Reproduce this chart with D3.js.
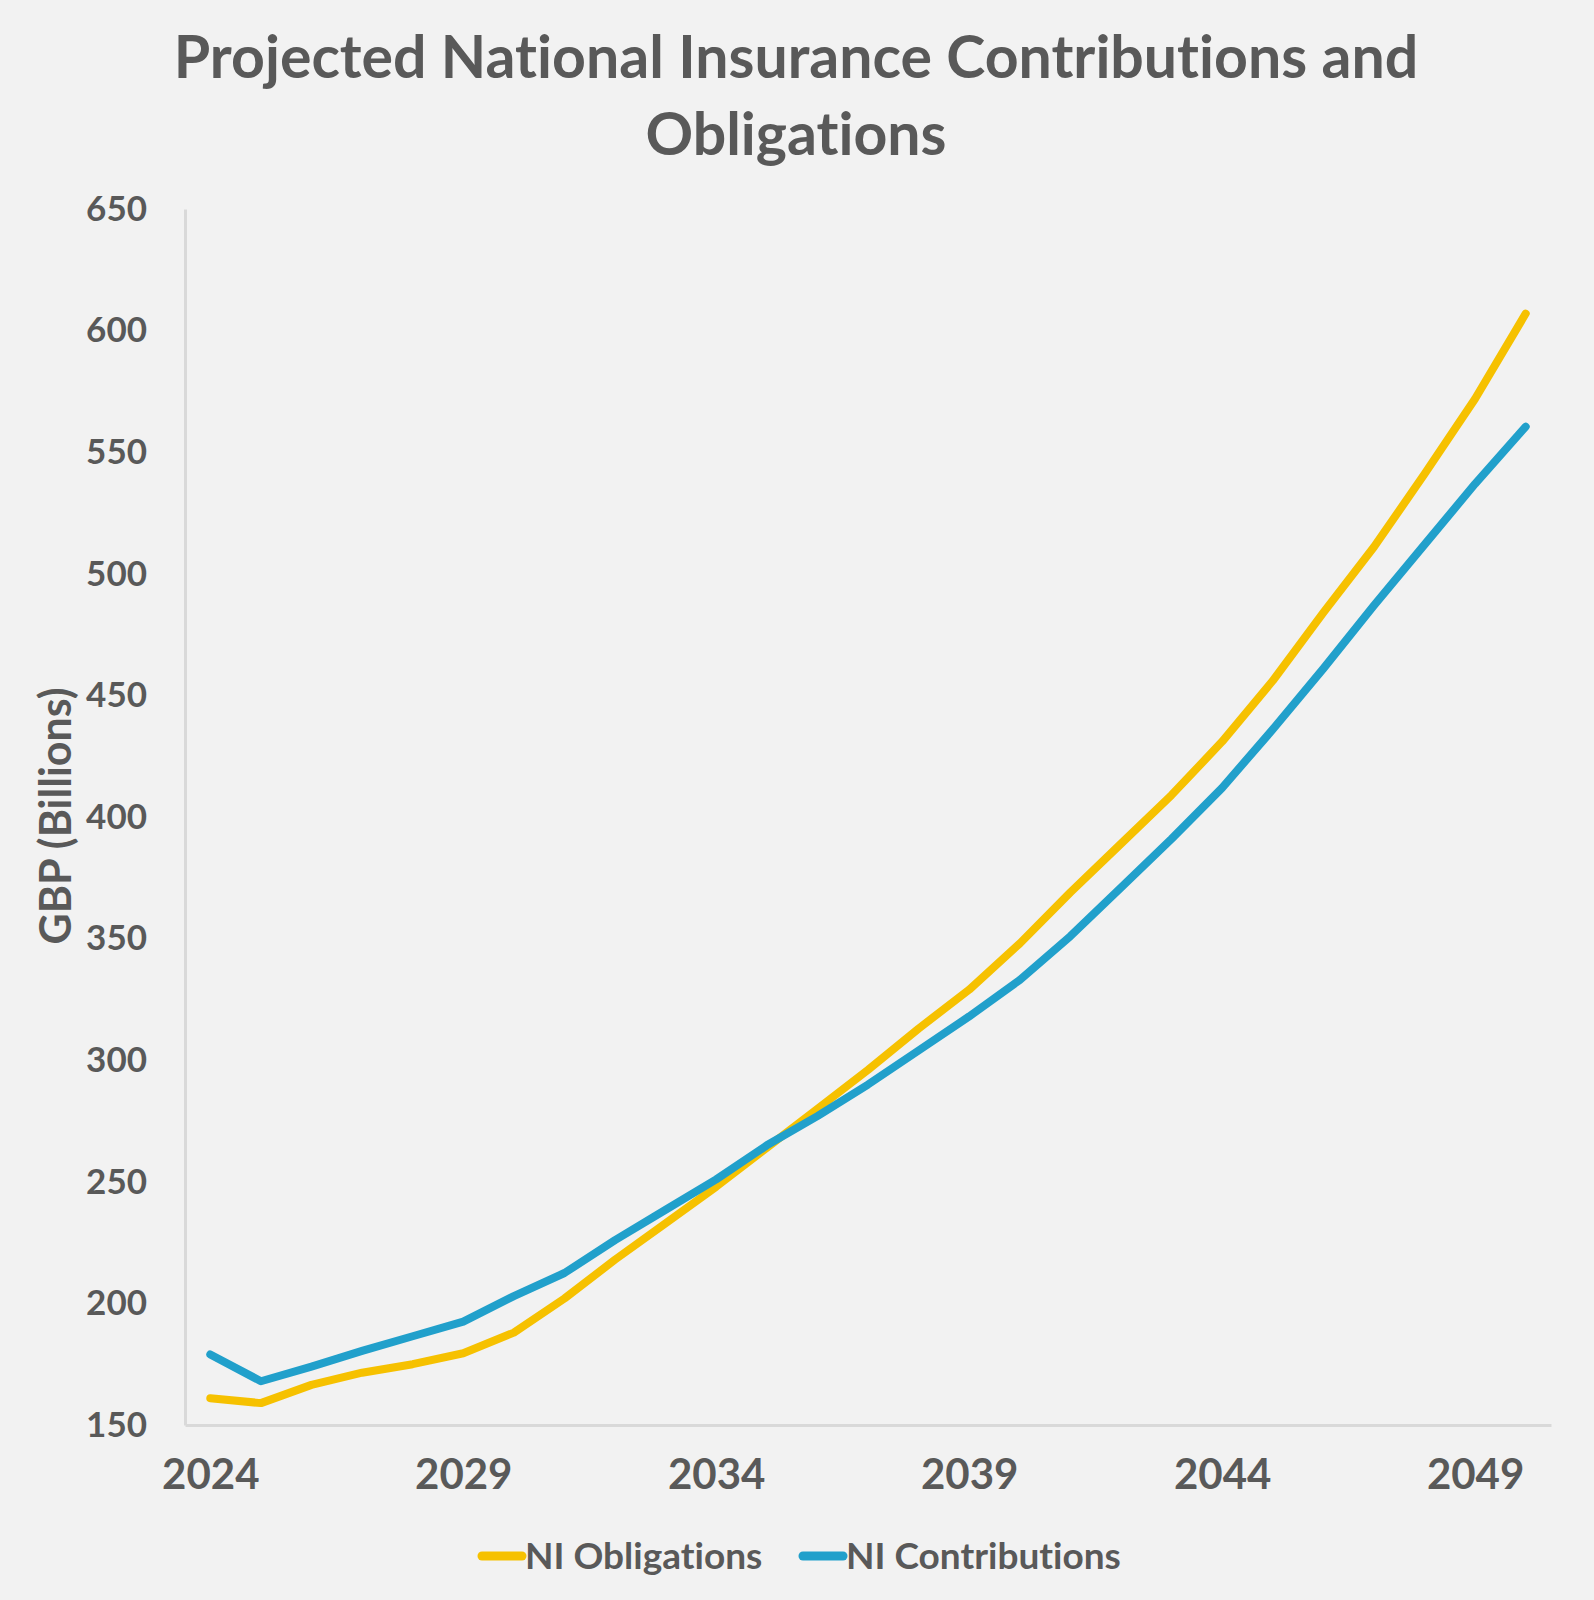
<!DOCTYPE html>
<html>
<head>
<meta charset="utf-8">
<script src="https://cdn.jsdelivr.net/npm/d3@7"></script>
<style>
  body { margin: 0; background: #f2f2f2; }
  svg { display: block; }
  text { font-family: Lato, "Open Sans", sans-serif; font-weight: bold; fill: #595959; font-variant-ligatures: none; }
</style>
</head>
<body>
<svg id="chart"></svg>
<script>
// years along the x axis
const years = d3.range(2024, 2051)
const xTickYears = [2024, 2029, 2034, 2039, 2044, 2049]
const yTicks = [150, 200, 250, 300, 350, 400, 450, 500, 550, 600, 650]

// GBP billions
const obligations = [161, 159, 166.5, 171.5, 175, 179.5, 188, 202, 218, 233, 248, 264, 280, 296,
  313, 329, 348, 369, 389, 409, 431, 456, 484, 511, 541, 572, 607]
const contributions = [179, 168, 174, 180.5, 186.5, 192.5, 203, 212.5, 226, 238.5, 251, 265, 277, 290,
  304, 318, 333, 351, 371, 391, 412, 436, 461, 487, 512, 537, 560.5]

const seriesNames = ['NI Obligations', 'NI Contributions']
const colors = ['#f6c100', '#21a0cb']

const width = 1594
const height = 1600

const svg = d3.select('#chart')
  .attr('width', width)
  .attr('height', height)

svg.append('rect')
  .attr('width', width)
  .attr('height', height)
  .attr('fill', '#f2f2f2')

let x = d3.scalePoint()
  .domain(years)
  .range([185, 1551])
  .padding(0.5)

let y = d3.scaleLinear()
  .domain([150, 650])
  .range([1425, 209])

// title
const title = svg.append('text')
  .attr('x', 796)
  .attr('text-anchor', 'middle')
  .attr('font-size', '59px')
title.append('tspan').attr('x', 796).attr('y', 78).text('Projected National Insurance Contributions and')
title.append('tspan').attr('x', 796).attr('y', 155).text('Obligations')

// axes
const xAxis = svg.append('g')
  .attr('transform', 'translate(0,1425)')
  .call(d3.axisBottom(x).tickValues(xTickYears).tickSize(0).tickPadding(34))
xAxis.select('.domain').attr('stroke', '#d9d9d9').attr('stroke-width', 3)
xAxis.selectAll('text')
  .attr('font-size', '42px')
  .attr('font-family', 'Lato, sans-serif')
  .attr('fill', '#595959')

const yAxis = svg.append('g')
  .attr('transform', 'translate(185,0)')
  .call(d3.axisLeft(y).tickValues(yTicks).tickSize(0).tickPadding(38))
yAxis.select('.domain').attr('stroke', '#d9d9d9').attr('stroke-width', 3)
yAxis.selectAll('text')
  .attr('font-size', '35px')
  .attr('font-family', 'Lato, sans-serif')
  .attr('fill', '#595959')

svg.append('text')
  .attr('transform', 'translate(71,816) rotate(-90)')
  .attr('text-anchor', 'middle')
  .attr('font-size', '43px')
  .text('GBP (Billions)')

// lines
const line = d3.line()
  .x((d, i) => x(years[i]))
  .y(d => y(d))

const seriesData = [obligations, contributions]

svg.selectAll('.series')
  .data(seriesData)
  .enter().append('path')
  .attr('class', 'series')
  .attr('d', line)
  .attr('fill', 'none')
  .attr('stroke', (d, i) => colors[i])
  .attr('stroke-width', 8)
  .attr('stroke-linecap', 'round')
  .attr('stroke-linejoin', 'round')

// legend
const legendX = [482, 803]
const legend = svg.selectAll('.legend')
  .data(seriesNames)
  .enter().append('g')
  .attr('class', 'legend')
  .attr('transform', (d, i) => 'translate(' + legendX[i] + ',1556)')

legend.append('line')
  .attr('x1', 0)
  .attr('x2', 40)
  .attr('stroke', (d, i) => colors[i])
  .attr('stroke-width', 9)
  .attr('stroke-linecap', 'round')

legend.append('text')
  .attr('x', 43)
  .attr('dy', '0.35em')
  .attr('font-size', '37px')
  .text(d => d)
</script>
</body>
</html>
